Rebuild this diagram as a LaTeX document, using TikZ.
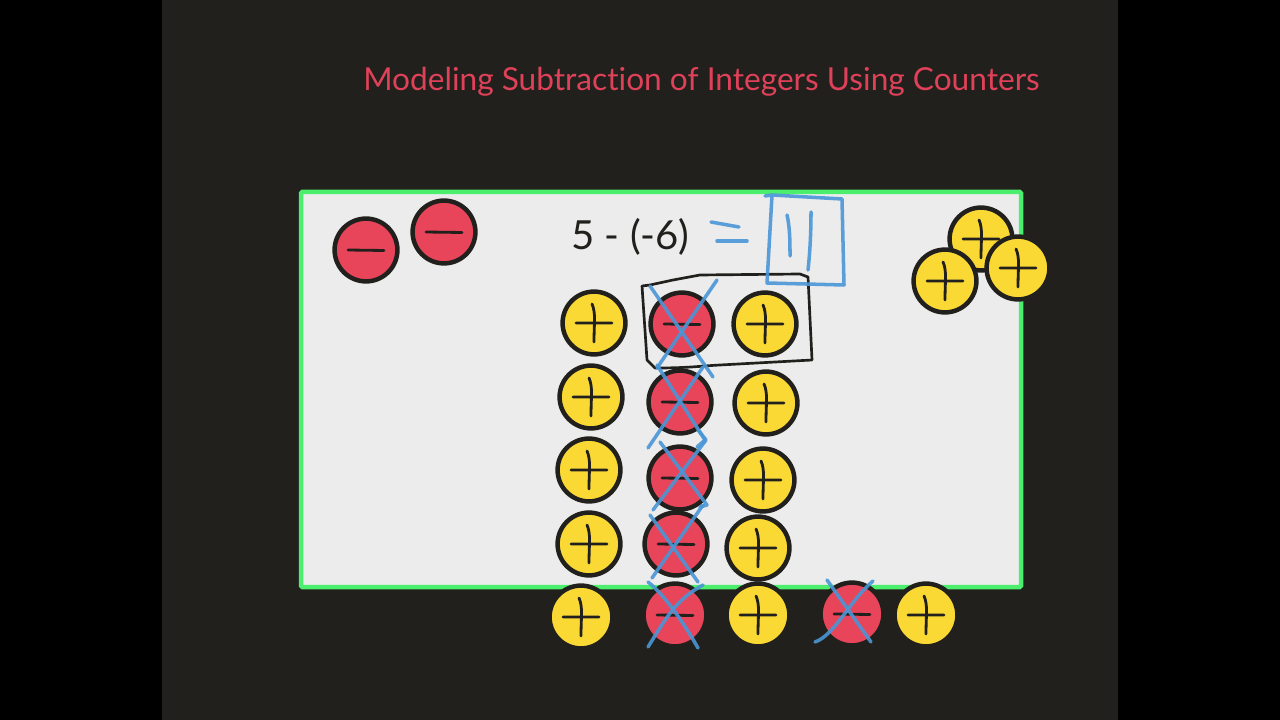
\documentclass[tikz,border=0pt]{standalone}
\usepackage{fontspec}
\setmainfont{Lato}[Ligatures=NoCommon]
\usetikzlibrary{calc}
\definecolor{slate}{HTML}{21201C}
\definecolor{paper}{HTML}{ECECEC}
\definecolor{frame}{HTML}{4CEE6E}
\definecolor{redc}{HTML}{E8445A}
\definecolor{yelc}{HTML}{FBD935}
\definecolor{inkb}{HTML}{4A96D6}
\definecolor{titlec}{HTML}{DF4159}
\tikzset{
  counter/.style={circle, draw=slate, line width=3.2pt, minimum size=1.57cm, inner sep=0pt},
  plusc/.style={counter, fill=yelc, path picture={
    \draw [slate, line width=2pt, line cap=round, shift={(path picture bounding box.center)}]
      (-18,0) -- (18,0) (-2,-19) .. controls (2,-10) and (0,0) .. (0,19);}},
  negc/.style={counter, fill=redc, path picture={
    \draw [slate, line width=2pt, line cap=round, shift={(path picture bounding box.center)}]
      (-18,0) -- (18,0.5);}},
  hand/.style={inkb, line width=2.5pt, line cap=round, line join=round, opacity=0.9},
  ink/.style={slate, line width=1.9pt, line cap=round, line join=round}
}
\begin{document}
\begin{tikzpicture}[x=0.025cm, y=-0.025cm]
  \useasboundingbox (0,0) rectangle (1280,720);
  \fill [black] (0,0) rectangle (1280,720);
  \fill [slate] (162,0) rectangle (1118,720);
  \draw [frame, fill=paper, line width=3.2pt, rounded corners=1pt] (301,192) rectangle (1021,587);

  \node [titlec, font=\fontsize{22.5}{28}\selectfont] (title) at (701.5,82) {Modeling Subtraction of Integers Using Counters};
  \node [slate, font=\fontsize{28.5}{34}\selectfont] (expr) at (630.5,237) {5 - (-6)};

  \node [negc] (nl1) at (366,250) {};
  \node [negc] (nl2) at (444,232) {};
  \node [plusc] (pr1) at (981,239) {};
  \node [plusc] (pr2) at (945,281) {};
  \node [plusc] (pr3) at (1018,268) {};

  \node [plusc] (pa1) at (594,323) {};
  \node [plusc] (pa2) at (591,397) {};
  \node [plusc] (pa3) at (589,470) {};
  \node [plusc] (pa4) at (589,544) {};
  \node [plusc] (pa5) at (581,617) {};
  \node [negc] (nb1) at (682,324) {};
  \node [negc] (nb2) at (680,402) {};
  \node [negc] (nb3) at (680,478) {};
  \node [negc] (nb4) at (676,544) {};
  \node [negc] (nb5) at (675,615) {};
  \node [plusc] (pc1) at (765,324) {};
  \node [plusc] (pc2) at (766,403) {};
  \node [plusc] (pc3) at (763,480) {};
  \node [plusc] (pc4) at (758,548) {};
  \node [plusc] (pc5) at (758,615) {};
  \node [negc] (nd) at (852,614) {};
  \node [plusc] (pe) at (926,615) {};

  \draw [ink] (642,286) -- (647,360) -- (655,368) .. controls (690,368) and (700,366) .. (720,365) -- (812,360) -- (808,277) -- (800,274) -- (700,275) -- (673,280) -- (650,285) -- cycle;

  \draw [hand] (711,222) -- (739,227);
  \draw [hand] (717,241) -- (747,241);
  \draw [hand] (765,196) -- (772,195) -- (842,199) -- (844,285) -- (767,283) -- (772,195);
  \draw [hand] (787,215) .. controls (790,228) and (790,242) .. (790,256);
  \draw [hand] (811,212) .. controls (811,232) and (810,252) .. (808,270);

  \draw [hand] (650,286) -- (713,377);
  \draw [hand] (717,280) -- (657,368);
  \draw [hand] (657,365) -- (705,440) -- (697,447);
  \draw [hand] (703,367) -- (648,448);
  \draw [hand] (660,442) -- (707,505) -- (700,507);
  \draw [hand] (698,430) -- (706,440) -- (653,510);
  \draw [hand] (650,515) -- (698,582);
  \draw [hand] (703,505) -- (652,578);
  \draw [hand] (648,582) .. controls (665,595) and (685,625) .. (698,648);
  \draw [hand] (703,585) .. controls (675,600) and (665,620) .. (648,647);
  \draw [hand] (827,580) -- (871,642);
  \draw [hand] (873,581) .. controls (850,600) and (835,635) .. (815,642);
\end{tikzpicture}
\end{document}
